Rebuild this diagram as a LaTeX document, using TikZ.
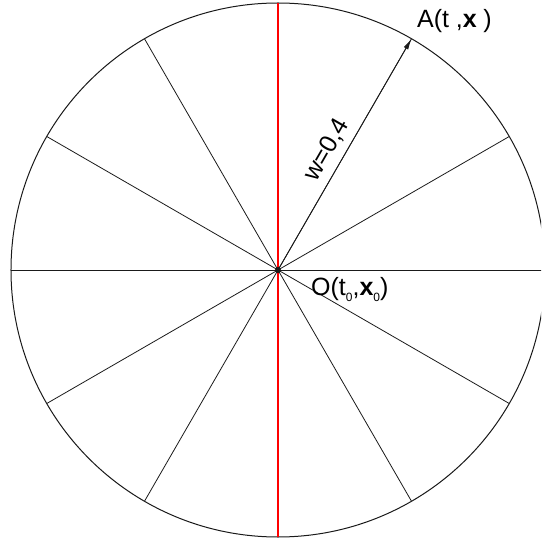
\documentclass[tikz,border=0pt]{standalone}
\usepackage{fontspec}
\setmainfont{Liberation Sans}
\usetikzlibrary{arrows.meta}
\definecolor{linegray}{HTML}{1A1A1A}
\definecolor{axisred}{HTML}{FF0000}
\newcommand{\sub}[1]{\raisebox{-0.25em}{\fontsize{12}{14}\selectfont #1}}
\tikzset{
  spoke/.style={
    draw=linegray,
    line width=0.8pt
  },
  axisline/.style={
    draw=axisred,
    line width=1.2pt
  },
  arrow/.style={
    -{Latex[length=11pt,width=5pt]},
    draw=linegray,
    line width=0.8pt
  },
  lbl/.style={
    font=\fontsize{25}{30}\selectfont,
    inner sep=0pt
  }
}

\begin{document}
\begin{tikzpicture}[x=1pt,y=1pt]
\useasboundingbox (-278,-276) rectangle (263,270);
\clip (-278,-276) rectangle (263,270);
\coordinate (O) at (0,0);
\coordinate (A) at (60:267);

\draw[spoke, line width=1pt] (O) circle (267);
\foreach \a in {0,30,60,120,150}
  \draw[spoke] (\a:267) -- (\a+180:267);
\draw[axisline] (0,267) -- (0,-267);

\draw[arrow] (O) -- (A) node[lbl, pos=0.48, sloped, above=7pt]{w=0,4};
\fill[linegray] (O) circle (3);

\node[lbl, anchor=base west] (alabel) at (139,242) {A(t\hphantom{\sub{0}},\textbf{x}\hphantom{\sub{0}})};
\node[lbl, anchor=base west] (olabel) at (33,-25) {O(t\sub{0},\textbf{x}\sub{0})};
\end{tikzpicture}
\end{document}
